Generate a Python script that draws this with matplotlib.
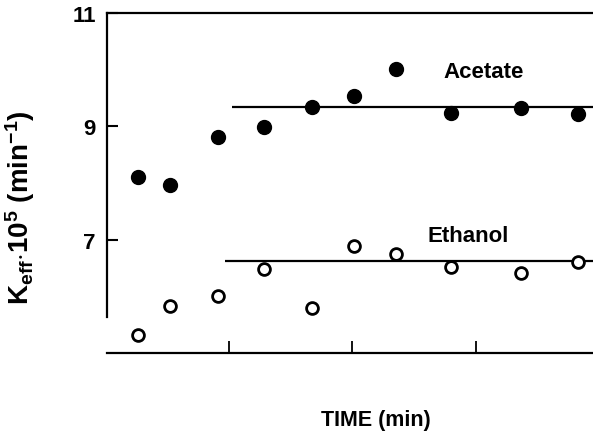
import numpy as np
import matplotlib.pyplot as plt

plt.rcParams['font.family'] = ['Liberation Sans', 'DejaVu Sans']
plt.rcParams['font.weight'] = 'bold'
plt.rcParams['mathtext.fontset'] = 'custom'
plt.rcParams['mathtext.rm'] = 'Liberation Sans:bold'
plt.rcParams['mathtext.it'] = 'Liberation Sans:bold'
plt.rcParams['mathtext.bf'] = 'Liberation Sans:bold'

# data (time in tick units)
time = [0.26, 0.52, 0.91, 1.28, 1.67, 2.01, 2.35, 2.80, 3.37, 3.83]
acetate = [8.10, 7.97, 8.81, 8.99, 9.34, 9.53, 10.02, 9.24, 9.33, 9.21]
ethanol = [5.32, 5.83, 6.01, 6.48, 5.79, 6.88, 6.75, 6.51, 6.42, 6.60]

acetate_mean = 9.34
ethanol_mean = 6.62
acetate_start = 1.02
ethanol_start = 0.97

fig = plt.figure(figsize=(5.93, 4.35), dpi=100)
ax = fig.add_axes([107 / 593, 1 - 354 / 435, 1 - 107 / 593, (354 - 14) / 435])

ax.plot(time, acetate, 'o', color='black', markersize=10, zorder=3)
ax.plot(time, ethanol, 'o', markerfacecolor='white', markeredgecolor='black',
        markersize=8.5, markeredgewidth=2, zorder=3)
ax.hlines(acetate_mean, acetate_start, 3.95, color='black', lw=1.6)
ax.hlines(ethanol_mean, ethanol_start, 3.95, color='black', lw=1.6)

ax.text(3.06, 9.96, 'Acetate', fontsize=16, fontweight='bold', ha='center', va='center')
ax.text(2.94, 7.08, 'Ethanol', fontsize=16, fontweight='bold', ha='center', va='center')

ax.set_xlim(0.01, 3.95)
ax.set_ylim(5, 11)
ax.set_yticks([7, 9, 11])
ax.set_yticklabels(['7', '9', '11'], fontsize=16, fontweight='bold')
ax.set_xticks([1, 2, 3])
ax.set_xticklabels([])

ax.tick_params(axis='y', direction='in', length=8, width=1.5, pad=8)
ax.tick_params(axis='x', direction='in', length=9, width=1.3)

for s in ['left', 'top', 'bottom']:
    ax.spines[s].set_linewidth(1.6)
ax.spines['right'].set_visible(False)
ax.spines['left'].set_bounds(5.64, 11)

fig.text(20 / 593, 1 - 208 / 435, r'K$_{\mathrm{eff}}$$\cdot$10$^{5}$ (min$^{-1}$)',
         rotation=90, fontsize=20, fontweight='bold', ha='center', va='center')
fig.text(376 / 593, 1 - 421 / 435, 'TIME (min)', fontsize=15.5, fontweight='bold',
         ha='center', va='center')

fig.savefig('out.png', dpi=100)
